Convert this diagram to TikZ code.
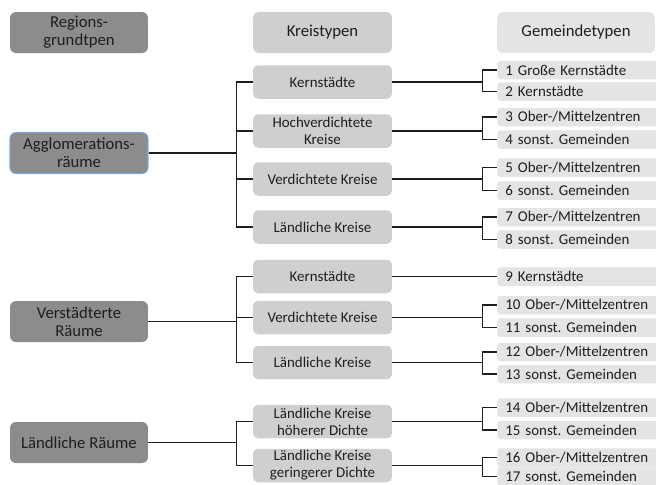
\documentclass[tikz,border=0pt]{standalone}
\usepackage{fontspec}
\setmainfont{Carlito}
\frenchspacing
\definecolor{ink}{HTML}{1E1E1E}
\definecolor{dark}{HTML}{8C8C8C}
\definecolor{mid}{HTML}{CFCFCF}
\definecolor{light}{HTML}{E4E4E4}
\definecolor{rim}{HTML}{7FA7D6}

\begin{document}
\begin{tikzpicture}[x=0.02cm,y=-0.02cm,font=\fontsize{8.5}{9.6}\selectfont,text=ink,
 grund/.style={fill=dark,rounded corners=3.4pt,minimum width=2.76cm,minimum height=.82cm,align=center,inner sep=1pt,font=\fontsize{9.5}{10.2}\selectfont},
 kreis/.style={fill=mid,rounded corners=2.8pt,minimum width=2.78cm,minimum height=.67cm,align=center,inner sep=1pt},
 gem/.style={fill=light,rounded corners=1.7pt,minimum height=.37cm,anchor=west,text width=3.1cm,align=left,inner xsep=.16cm,inner ysep=0pt},
 link/.style={draw=ink,line width=.75pt}]
\path[use as bounding box] (0,0) rectangle (656,484);
\clip (0,0) rectangle (656,484);
% column heads
\node[grund] (hr) at (79,32.5) {Regions-\\grundtpen};
\node[kreis,rounded corners=3.4pt,minimum height=.82cm,font=\fontsize{9.5}{10.2}\selectfont] (hk) at (322.5,32.5) {Kreistypen};
\node[kreis,fill=light,rounded corners=3.4pt,minimum width=3.16cm,minimum height=.82cm,font=\fontsize{9.5}{10.2}\selectfont] (hg) at (576,32.5) {Gemeindetypen};
% Regionsgrundtypen
\node[grund,draw=rim,line width=.6pt] (ra) at (79,153) {Agglomerations-\\räume};
\node[grund] (rv) at (79,321.5) {Verstädterte\\Räume};
\node[grund] (rl) at (79,442.5) {Ländliche Räume};
% Kreistypen
\foreach \n/\y/\t in {1/82/Kernstädte,2/131/{Hochverdichtete\\Kreise},3/179/Verdichtete Kreise,
 4/227/Ländliche Kreise,5/276.5/Kernstädte,6/317.5/Verdichtete Kreise,7/362.5/Ländliche Kreise,
 8/421.5/{Ländliche Kreise\\höherer Dichte},9/465.5/{Ländliche Kreise\\geringerer Dichte}}
 \node[kreis] (k\n) at (322.5,\y) {\t};
% Gemeindetypen
\foreach \n/\y/\t in {1/70/Große Kernstädte,2/91.5/Kernstädte,3/117/{Ober-/Mittelzentren},
 4/139.5/sonst. Gemeinden,5/167.5/{Ober-/Mittelzentren},6/190.5/sonst. Gemeinden,
 7/217/{Ober-/Mittelzentren},8/239.5/sonst. Gemeinden,9/276.5/Kernstädte,
 10/305/{Ober-/Mittelzentren},11/327.5/sonst. Gemeinden,12/352/{Ober-/Mittelzentren},
 13/374/sonst. Gemeinden,14/407.5/{Ober-/Mittelzentren},15/430/sonst. Gemeinden,
 16/457.5/{Ober-/Mittelzentren},17/476.5/sonst. Gemeinden}
 \node[gem] (g\n) at (497,\y) {\n~\t};
% brackets
\foreach \k in {1,...,4} \draw[link] (ra.east) -- ++(88,0) |- (k\k.west);
\foreach \k in {5,6,7} \draw[link] (rv.east) -- ++(88,0) |- (k\k.west);
\foreach \k in {8,9} \draw[link] (rl.east) -- ++(88,0) |- (k\k.west);
\foreach \k/\g in {1/1,1/2,2/3,2/4,3/5,3/6,4/7,4/8,5/9,6/10,6/11,7/12,7/13,8/14,8/15,9/16,9/17}
 \draw[link] (k\k.east) -- ++(90,0) |- (g\g.west);
\end{tikzpicture}
\end{document}
